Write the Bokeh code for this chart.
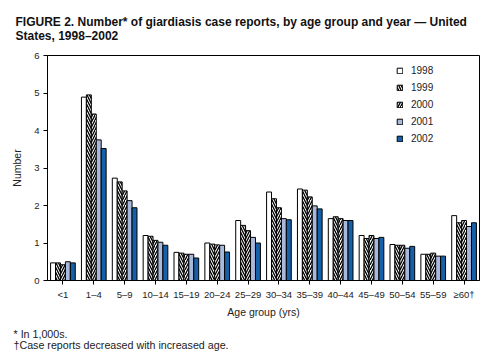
from bokeh.plotting import figure
from bokeh.models import ColumnDataSource, FactorRange, Range1d, Legend, LegendItem, Title, FixedTicker
from bokeh.transform import dodge
from bokeh.embed import file_html
from bokeh.resources import INLINE

ages = ["<1", "1–4", "5–9", "10–14", "15–19", "20–24", "25–29", "30–34",
        "35–39", "40–44", "45–49", "50–54", "55–59", "≥60†"]
years = ["1998", "1999", "2000", "2001", "2002"]
y1998 = [0.47, 4.89, 2.73, 1.20, 0.75, 1.00, 1.60, 2.36, 2.44, 1.65, 1.20, 0.96, 0.70, 1.73]
y1999 = [0.47, 4.95, 2.63, 1.18, 0.73, 0.97, 1.47, 2.18, 2.41, 1.70, 1.12, 0.94, 0.70, 1.54]
y2000 = [0.42, 4.44, 2.39, 1.07, 0.70, 0.95, 1.33, 1.94, 2.23, 1.65, 1.20, 0.94, 0.73, 1.60]
y2001 = [0.50, 3.75, 2.13, 1.02, 0.70, 0.94, 1.15, 1.65, 1.99, 1.60, 1.12, 0.86, 0.65, 1.44]
y2002 = [0.47, 3.52, 1.94, 0.94, 0.60, 0.76, 1.00, 1.62, 1.91, 1.60, 1.15, 0.91, 0.65, 1.54]
y_ticks = [0, 1, 2, 3, 4, 5, 6]

title_text = ("FIGURE 2. Number* of giardiasis case reports, by age group and year — United\n"
              "States, 1998–2002")
notes_text = "* In 1,000s.\n†Case reports decreased with increased age."

source = ColumnDataSource(dict(age=ages, y1998=y1998, y1999=y1999, y2000=y2000,
                               y2001=y2001, y2002=y2002))

FONT = "Liberation Sans"
TXT = "#222222"

p = figure(x_range=FactorRange(*ages, range_padding=0), y_range=Range1d(0, 6),
           width=496, height=361, output_backend="svg", toolbar_location=None,
           min_border_left=47, min_border_right=17, min_border_top=53,
           min_border_bottom=81, background_fill_color="white",
           border_fill_color="white")

styles = [
    dict(fill_color="white"),
    dict(fill_color="white", hatch_pattern="left_diagonal_line", hatch_color="black",
         hatch_scale=5, hatch_weight=1.3),
    dict(fill_color="white", hatch_pattern="right_diagonal_line", hatch_color="black",
         hatch_scale=5, hatch_weight=1.3),
    dict(fill_color="#a9b9dd"),
    dict(fill_color="#1560a8"),
]
offsets = [-0.32, -0.16, 0.0, 0.16, 0.32]
renderers = []
for yr, off, st in zip(years, offsets, styles):
    r = p.vbar(x=dodge("age", off, range=p.x_range), top="y" + yr, width=0.16,
               source=source, line_color="black", line_width=1, **st)
    renderers.append(r)

legend = Legend(items=[LegendItem(label=yr, renderers=[r]) for yr, r in zip(years, renderers)],
                location=(349, 136), glyph_width=7, glyph_height=7, label_height=7,
                label_standoff=8, spacing=6, padding=0, margin=0,
                border_line_color=None, background_fill_alpha=0,
                label_text_font=FONT, label_text_font_size="10px",
                label_text_color=TXT)
p.add_layout(legend)

p.xgrid.visible = False
p.ygrid.visible = False
p.outline_line_color = "black"
p.outline_line_width = 1

for ax in (p.xaxis, p.yaxis):
    ax.axis_line_color = "black"
    ax.axis_line_width = 1
    ax.major_tick_line_color = "black"
    ax.major_tick_in = 0
    ax.major_tick_out = 4
    ax.minor_tick_line_color = None
    ax.major_label_text_font = FONT
    ax.major_label_text_font_size = "9.5px"
    ax.major_label_text_color = TXT
    ax.axis_label_text_font = FONT
    ax.axis_label_text_font_size = "10.5px"
    ax.axis_label_text_font_style = "normal"
    ax.axis_label_text_color = TXT
    ax.major_label_standoff = 4

p.yaxis.ticker = FixedTicker(ticks=y_ticks)
p.yaxis.axis_label = "Number"
p.yaxis.axis_label_standoff = 8
p.xaxis.axis_label = "Age group (yrs)"
p.xaxis.axis_label_standoff = 3

p.add_layout(Title(text=title_text, text_font=FONT, text_font_size="12px",
                   text_font_style="bold", text_color="#111111", align="left",
                   text_line_height=0.98, offset=-32, standoff=25), "above")

p.add_layout(Title(text=notes_text, text_font=FONT, text_font_size="10.7px",
                   text_font_style="normal", text_color=TXT, align="left",
                   text_line_height=0.98, offset=-34, standoff=10), "below")

open("out.html", "w").write(file_html(p, INLINE))
